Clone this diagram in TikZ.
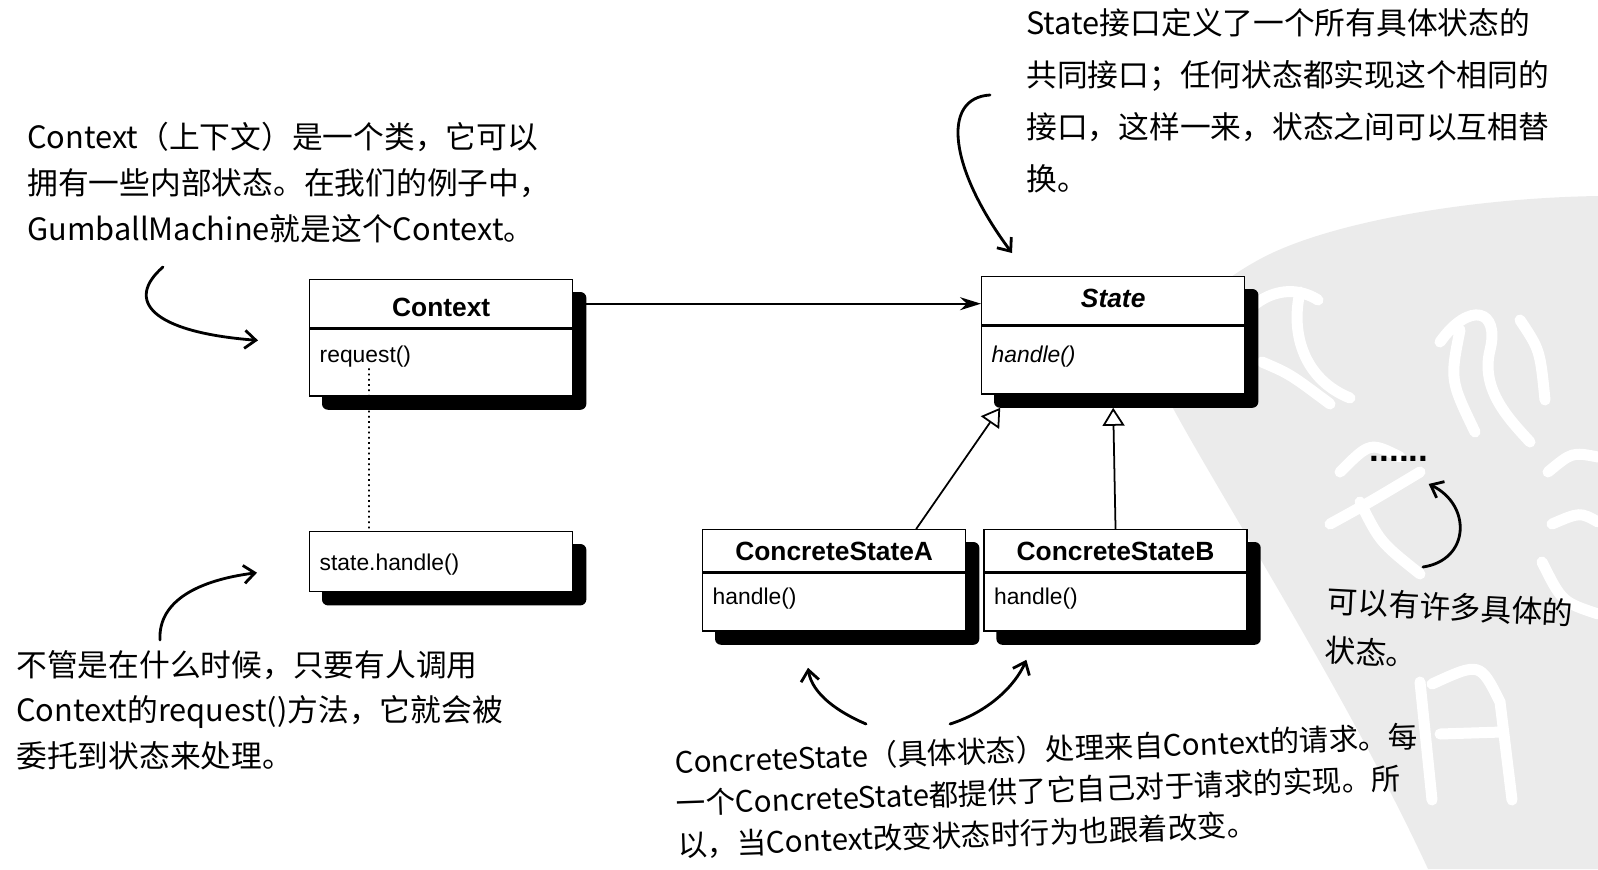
\documentclass[tikz,border=0pt]{standalone}
\usepackage{fontspec}
\newfontfamily\umlfont{Liberation Sans}
\newfontfamily\notefont{Noto Sans CJK SC}
\usetikzlibrary{positioning, arrows.meta, calc, backgrounds}
\definecolor{papier}{HTML}{EBEBEB}

\begin{document}
\begin{tikzpicture}[x=0.02cm, y=-0.02cm,
      kopf/.style={draw, line width=0.8pt, fill=white, anchor=north west,
        font=\umlfont\bfseries\fontsize{15}{18}\selectfont,
        inner xsep=0.08cm, inner ysep=0pt, text width=5.1cm, align=center},
      rumpf/.style={draw, line width=0.8pt, fill=white,
        font=\umlfont\fontsize{13}{16}\selectfont,
        inner xsep=0.2cm, inner ysep=0pt, text width=4.86cm, align=left},
      schatten/.style={fill=black, rounded corners=0.12cm},
      notiz/.style={font=\notefont\fontsize{17.5}{#1}\selectfont,
        align=left, inner sep=0pt, anchor=north west},
      notiz/.default=26,
      pfeil/.style={-{Stealth[length=0.42cm, width=0.26cm]}, line width=1pt},
      erbt/.style={-{Triangle[open, length=0.36cm, width=0.44cm, fill=white]}, line width=1pt},
      delegiert/.style={line width=1pt, dash pattern=on 1pt off 2pt},
      hand/.style={-{Straight Barb[length=0.22cm, width=0.36cm]}, line width=1.6pt, line cap=round},
      wz/.style={white, line width=0.22cm, line cap=round}]
    \useasboundingbox (0,0) rectangle (1598,869);

    % Klassen
    \node[kopf, text height=0.73cm, text depth=0.23cm] (ctx) at (309,279) {Context};
    \node[rumpf, below=0pt of ctx, text height=0.66cm, text depth=0.68cm] (ctxm) {request()};
    \node[rumpf, anchor=north west, text height=0.78cm, text depth=0.42cm] (hdl) at (309,531) {state.handle()};
    \node[kopf, text height=0.62cm, text depth=0.34cm] (st) at (981,276) {\itshape State};
    \node[rumpf, below=0pt of st, text height=0.72cm, text depth=0.64cm] (stm) {\itshape handle()};
    \node[kopf, text height=0.62cm, text depth=0.22cm] (csa) at (702,529) {ConcreteStateA};
    \node[rumpf, below=0pt of csa, text height=0.62cm, text depth=0.54cm] (csam) {handle()};
    \node[kopf, right=0.34cm of csa, text height=0.62cm, text depth=0.22cm] (csb) {ConcreteStateB};
    \node[rumpf, below=0pt of csb, text height=0.62cm, text depth=0.54cm] (csbm) {handle()};

    \begin{scope}[on background layer]
      % Wasserzeichen
      \fill[papier] (1598,196) .. controls (1470,198) and (1330,222) .. (1262,258)
        .. controls (1190,296) and (1160,348) .. (1166,395)
        .. controls (1210,480) and (1345,690) .. (1428,869) -- (1598,869) -- cycle;
      \draw[wz] (1228,338) .. controls (1252,292) and (1290,282) .. (1318,300)
        (1300,292) .. controls (1290,335) and (1305,380) .. (1350,398)
        (1262,362) .. controls (1290,374) .. (1330,404)
        (1440,342) .. controls (1470,300) and (1500,310) .. (1490,350) .. controls (1480,390) and (1510,420) .. (1530,442)
        (1460,330) .. controls (1450,380) .. (1475,432)
        (1520,320) .. controls (1540,350) .. (1545,400)
        (1340,472) .. controls (1370,442) .. (1400,457)
        (1330,524) .. controls (1370,502) .. (1420,472)
        (1360,502) .. controls (1380,542) .. (1420,574)
        (1548,472) .. controls (1572,452) .. (1598,457)
        (1552,524) .. controls (1580,512) .. (1598,522)
        (1542,562) .. controls (1562,602) .. (1598,614)
        (1420,682) -- (1432,800)
        (1432,684) .. controls (1480,662) .. (1500,702) -- (1512,800)
        (1440,734) -- (1502,732);
      \foreach \a/\b in {ctx/ctxm, hdl/hdl, st/stm, csa/csam, csb/csbm}
        \fill[schatten] ($(\a.north west)+(13,13)$) rectangle ($(\b.south east)+(13,13)$);
    \end{scope}

    \draw[pfeil] ($(ctx.east)+(13,0)$) -- (ctx.east -| st.west);
    \draw[erbt] ([xshift=1.64cm]csa.north) -- ([xshift=-2.26cm, yshift=-0.26cm]stm.south);
    \draw[erbt] (csb.north) -- ([yshift=-0.26cm]stm.south);
    \draw[delegiert] ($(ctxm.north west)+(60,40)$) -- ($(hdl.north west)+(60,0)$);

    % Notizen
    \node[notiz=26] (nctx) at (27,122) {Context（上下文）是一个类，它可以\\拥有一些内部状态。在我们的例子中，\\GumballMachine就是这个Context。};
    \node[notiz=29.6] (nst) at (1026,8) {State接口定义了一个所有具体状态的\\共同接口；任何状态都实现这个相同的\\接口，这样一来，状态之间可以互相替\\换。};
    \node[notiz=26] (nreq) at (16,650) {不管是在什么时候，只要有人调用\\Context的request()方法，它就会被\\委托到状态来处理。};
    \node[notiz=23.5, rotate=2, font=\notefont\fontsize{16.8}{23.5}\selectfont] (ncs) at (674,748) {ConcreteState（具体状态）处理来自Context的请求。每\\一个ConcreteState都提供了它自己对于请求的实现。所\\以，当Context改变状态时行为也跟着改变。};
    \node[notiz=28, rotate=-3] (nviel) at (1328,586) {可以有许多具体的\\状态。};
    \node[font=\umlfont\bfseries\fontsize{20}{20}\selectfont, inner sep=0pt] (mehr) at (1399,459) {......};

    % Hinweispfeile
    \coordinate (s1) at (163,267);
    \coordinate (s2) at (990,95);
    \coordinate (s3) at (160,640);
    \coordinate (s4) at (866,724);
    \coordinate (s5) at (950,724);
    \coordinate (s6) at (1423,567);
    \draw[hand] (s1) .. controls (125,300) and (150,332) .. ($(ctxm.north west)+(-51,12)$);
    \draw[hand] (s2) .. controls (940,98) and (950,170) .. ($(st.north west)+(31,-23)$);
    \draw[hand] (s3) .. controls (158,600) and (200,580) .. ($(hdl.west)+(-52,11)$);
    \draw[hand] (s4) .. controls (838,712) and (812,694) .. ($(csam.south west)+(106,36)$);
    \draw[hand] (s5) .. controls (988,712) and (1015,686) .. ($(csbm.south west)+(43,28)$);
    \draw[hand] (s6) .. controls (1470,560) and (1472,505) .. ($(mehr.south east)+(0,22)$);
  \end{tikzpicture}
\end{document}
